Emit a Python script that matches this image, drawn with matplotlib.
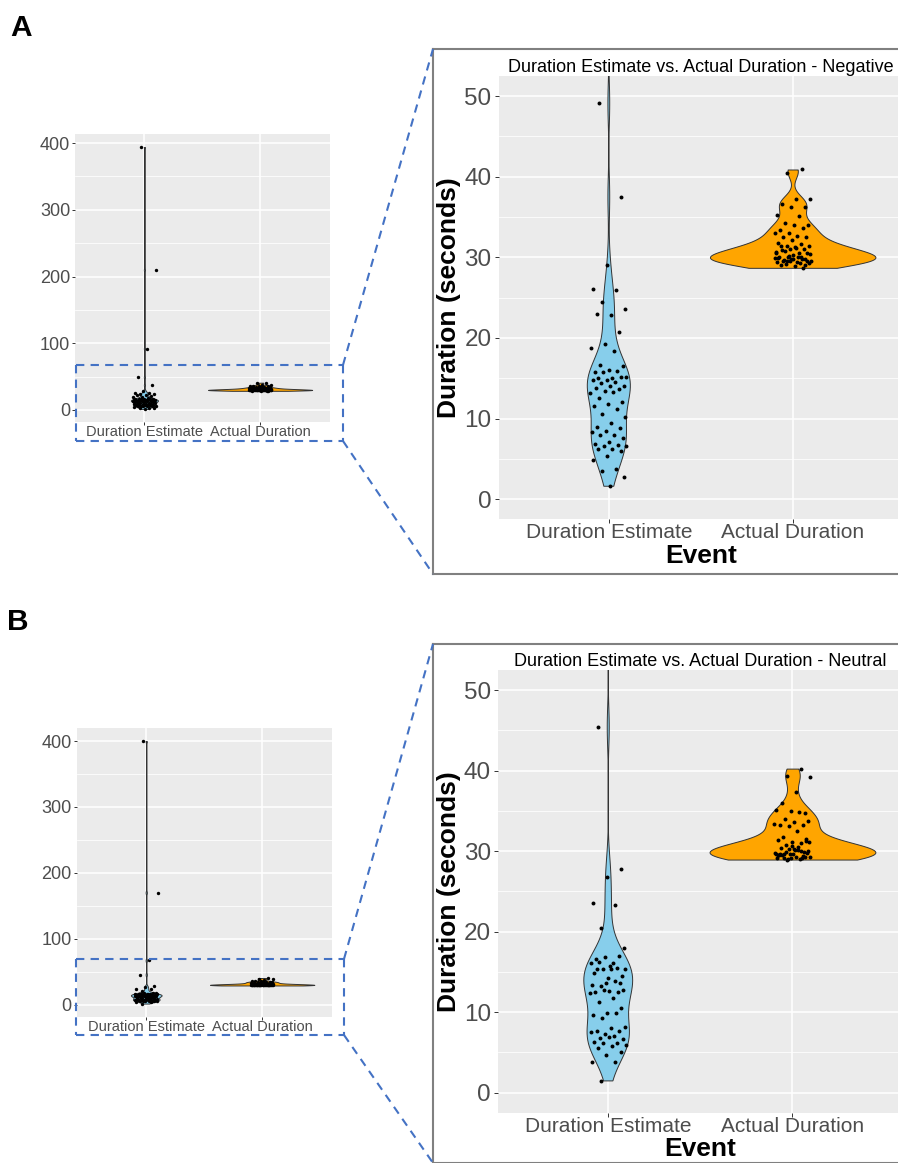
import numpy as np
import matplotlib
matplotlib.use('Agg')
import matplotlib.pyplot as plt
from matplotlib.lines import Line2D

plt.rcParams['font.family'] = ['Liberation Sans', 'DejaVu Sans']

W, H = 898, 1163

categories = ['Duration Estimate', 'Actual Duration']
fills = ['#87CEEB', '#FFA500']

# values (seconds)
neg_estimate = [394, 210, 92, 49.1, 37.5, 29.1, 26.1, 26.0, 24.4, 23.6, 22.9, 23.0, 20.8,
                19.3, 18.8, 18.4, 16.7, 16.5, 16.0, 15.8, 15.9, 15.8, 15.2, 15.0, 15.0, 15.1,
                14.8, 14.8, 14.5, 14.4, 14.1, 14.1, 13.8, 13.7, 13.4, 13.2, 13.3, 12.6, 12.0,
                11.8, 11.5, 11.2, 10.6, 10.2, 9.5, 8.9, 8.8, 8.4, 8.3, 7.9, 7.9, 7.6, 7.1,
                6.9, 6.75, 6.6, 6.6, 6.2, 6.2, 6.0, 5.3, 4.9, 3.7, 3.5, 2.8, 1.6]
neg_actual = [40.9, 40.5, 37.2, 37.2, 36.6, 36.3, 36.3, 35.3, 35.1, 34.2, 34.0, 34.0, 33.4,
              33.6, 33.0, 33.0, 32.7, 32.5, 32.5, 32.1, 31.8, 31.6, 31.4, 31.4, 31.3, 31.4,
              31.0, 31.0, 30.7, 30.5, 30.8, 30.5, 29.8, 30.0, 29.8, 30.0, 29.6, 29.4, 29.6,
              29.8, 29.8, 29.4, 29.3, 29.2, 29.3, 28.9, 29.0, 28.7, 30.2, 29.9, 30.1, 29.7,
              29.5, 30.3, 29.9, 30.0, 29.6, 30.4, 31.2, 30.9, 29.1, 29.5, 30.6]
neu_estimate = [400, 170, 67, 45.4, 27.8, 26.8, 23.6, 23.3, 20.5, 18.0, 15.7, 16.6, 17.0,
                16.8, 16.1, 16.1, 16.2, 14.5, 14.2, 14.8, 15.5, 15.4, 15.4, 15.4, 15.4, 13.6,
                13.6, 13.4, 13.8, 13.3, 12.7, 12.6, 12.5, 12.5, 12.7, 12.4, 11.8, 11.3, 10.5,
                9.85, 9.7, 9.9, 9.3, 8.1, 8.0, 7.6, 7.6, 7.3, 7.5, 7.0, 6.8, 6.7, 6.9, 6.3,
                6.1, 6.1, 5.9, 5.8, 5.6, 5.1, 4.7, 3.85, 3.85, 1.45]
neu_actual = [40.25, 39.3, 39.2, 37.3, 36.0, 34.7, 35.0, 35.1, 34.9, 34.0, 33.7, 33.6, 33.3,
              33.2, 33.1, 33.4, 32.5, 31.8, 31.5, 31.1, 31.4, 31.0, 30.8, 31.1, 30.1, 30.4,
              29.9, 29.7, 29.7, 30.1, 29.7, 29.8, 29.7, 29.5, 29.1, 29.05, 29.3, 29.3, 29.5,
              29.3, 29.1, 29.2, 29.0, 29.9, 30.0, 30.2, 29.6, 29.4, 30.3, 29.8, 30.5, 29.2,
              31.3, 30.6, 29.5, 30.0, 28.95]

titles = ['Duration Estimate vs. Actual Duration - Negative',
          'Duration Estimate vs. Actual Duration - Neutral']


def px(l, t, r, b):
    return [l / W, 1 - b / H, (r - l) / W, (b - t) / H]


def kde(vals):
    x = np.asarray(vals, float)
    q75, q25 = np.percentile(x, [75, 25])
    bw = 0.9 * min(x.std(ddof=1), (q75 - q25) / 1.34) * len(x) ** -0.2
    grid = np.linspace(x.min(), x.max(), 1024)
    d = np.exp(-0.5 * ((grid[:, None] - x[None, :]) / bw) ** 2).sum(1)
    return grid, d / (len(x) * bw * np.sqrt(2 * np.pi))


def violins(ax, groups, dot):
    dens = [kde(g) for g in groups]
    dmax = max(d.max() for _, d in dens)
    for i, (g, (y, d)) in enumerate(zip(groups, dens)):
        pos = i + 1
        half = 0.45 * d / dmax
        ax.fill_betweenx(y, pos - half, pos + half, facecolor=fills[i],
                         edgecolor='#333333', lw=0.7, zorder=2)
        n = len(g)
        jit = ((np.arange(n) * 0.618034 + 0.37 * (i + 1)) % 1 - 0.5) * 0.2
        ax.scatter(pos + jit, g, s=dot, c='black', lw=0, zorder=3)


def style(ax, ylim, major, minor, ysize, xsize, tlen, ypad):
    ax.set_facecolor('#EBEBEB')
    for s in ax.spines.values():
        s.set_visible(False)
    ax.set_xlim(0.4, 2.6)
    ax.set_ylim(*ylim)
    ax.set_xticks([1, 2])
    ax.set_xticklabels(categories)
    ax.set_yticks(major)
    ax.set_yticks(minor, minor=True)
    ax.grid(True, which='major', color='white', lw=1.1)
    ax.grid(True, which='minor', axis='y', color='white', lw=0.55)
    ax.set_axisbelow(True)
    ax.tick_params(axis='y', which='major', labelsize=ysize, labelcolor='#4D4D4D',
                   color='#333333', length=tlen, width=0.7, pad=ypad)
    ax.tick_params(axis='x', which='major', labelsize=xsize, labelcolor='#4D4D4D',
                   color='#333333', length=tlen, width=0.7, pad=0)
    ax.tick_params(which='minor', length=0)


fig = plt.figure(figsize=(W / 100, H / 100), dpi=100)

panels = [
    dict(letter='A', lxy=(10, 28), data=[neg_estimate, neg_actual],
         over=(75, 134, 329.5, 422), zoom=(498.5, 76, 903, 519.3),
         rect=(76, 365, 343, 441), box_top=49, box_bot=574, ev=556.5),
    dict(letter='B', lxy=(7, 622), data=[neu_estimate, neu_actual],
         over=(76.7, 728, 331.7, 1016.7), zoom=(497.7, 670, 903, 1112.7),
         rect=(76, 959, 344, 1035), box_top=644, box_bot=1163, ev=1149),
]

blue = '#4472C4'
for k, p in enumerate(panels):
    fig.text(p['lxy'][0] / W, 1 - p['lxy'][1] / H, p['letter'], fontsize=21.5,
             fontweight='bold', va='center', ha='left')

    # overview plot
    ax = fig.add_axes(px(*p['over']))
    violins(ax, p['data'], 6)
    allv = np.concatenate(p['data'])
    span = allv.max() - allv.min()
    style(ax, (allv.min() - 0.05 * span, allv.max() + 0.05 * span),
          np.arange(0, 401, 100), np.arange(50, 400, 100), 13, 10.5, 2.5, 1)

    # zoomed plot
    az = fig.add_axes(px(*p['zoom']))
    violins(az, p['data'], 8)
    style(az, (-2.5, 52.5), np.arange(0, 51, 10), np.arange(5, 50, 10), 17.5, 15, 3, 2)
    az.set_title(titles[k], fontsize=13, pad=2, color='black')
    zl, zt, zr, zb = p['zoom']
    fig.text(449 / W, 1 - (zt + zb) / 2 / H, 'Duration (seconds)', rotation=90,
             fontsize=19, fontweight='bold', ha='center', va='center')
    fig.text((zl + zr) / 2 / W, 1 - p['ev'] / H, 'Event', fontsize=19,
             fontweight='bold', ha='center', va='center')

    # frame around the zoomed plot
    bt, bb = p['box_top'], p['box_bot']
    for xs, ys in [((433, W + 5), (bt, bt)), ((433, 433), (bt, bb)), ((433, W + 5), (bb, bb))]:
        fig.add_artist(Line2D([x / W for x in xs], [1 - y / H for y in ys],
                              transform=fig.transFigure, color='#808080', lw=1.5))

    # dashed selection box and connectors
    l, t, r, b = p['rect']
    segs = [((l, r), (t, t)), ((r, r), (t, b)), ((l, r), (b, b)), ((l, l), (t, b)),
            ((r, 433), (t, bt)), ((r, 433), (b, bb))]
    for xs, ys in segs:
        fig.add_artist(Line2D([x / W for x in xs], [1 - y / H for y in ys],
                              transform=fig.transFigure, color=blue, lw=1.5,
                              linestyle=(0, (4, 3))))

fig.savefig('out.png', dpi=100)
